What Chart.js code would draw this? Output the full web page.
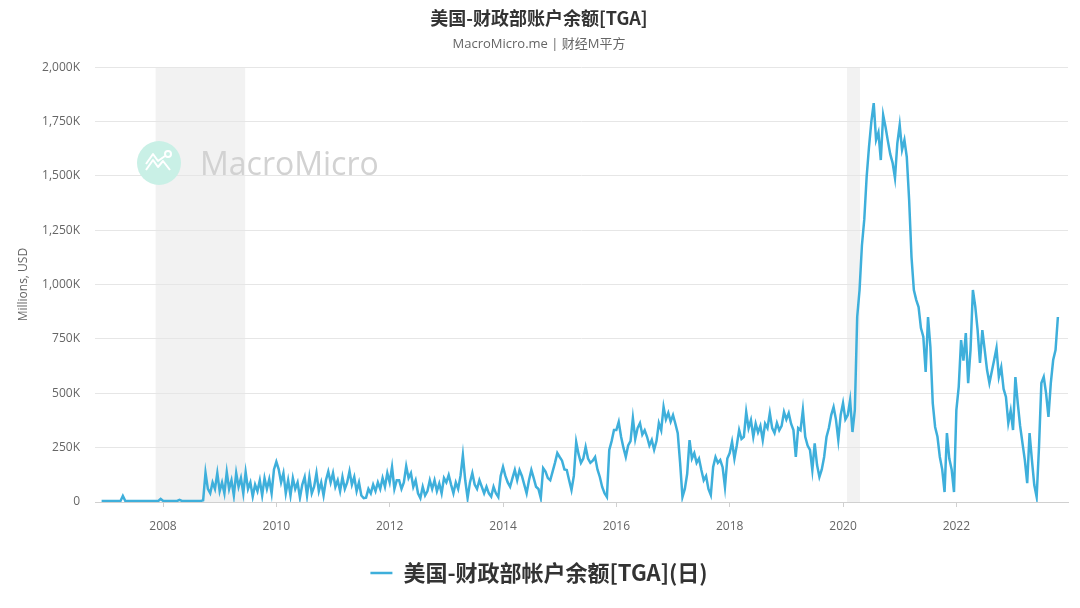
<!DOCTYPE html>
<html><head><meta charset="utf-8">
<script src="https://cdn.jsdelivr.net/npm/chart.js@4.4.0/dist/chart.umd.min.js"></script>
<style>html,body{margin:0;padding:0;background:#fff;}#wrap{width:1080px;height:608px;}</style>
</head><body><div id="wrap"><canvas id="c" width="1080" height="608"></canvas></div>
<script>
// Values in thousands of millions USD (axis shows "K"), sampled on the 1st and 16th of each month
const dec2006 = [5, 5];
const tga2007 = [5,5,5,5,5,5,5,28,6,5,5,5,5,5,5,5,5,5,5,5,5,5,5,14];
const tga2008 = [6,5,5,5,5,5,5,10,5,5,5,5,5,5,5,5,5,8,135,60,40,90,60,133];
const tga2009 = [50,90,40,138,60,100,30,133,70,110,40,138,60,90,25,80,50,100,30,110,60,105,40,150];
const tga2010 = [185,150,90,133,40,100,30,110,60,90,20,80,115,30,115,40,70,133,50,90,30,100,140,90];
const tga2011 = [133,70,100,50,115,60,90,142,80,115,50,90,30,18,20,60,40,80,50,90,60,110,70,133];
const tga2012 = [90,161,60,100,100,60,90,165,110,133,70,100,40,18,70,30,50,100,60,100,50,85,40,110];
const tga2013 = [90,124,80,40,90,60,120,216,100,18,90,133,80,60,100,70,40,70,40,25,70,40,23,120];
const tga2014 = [161,120,90,70,110,147,100,147,120,80,40,100,147,110,70,60,18,156,140,110,100,140,180,225];
const tga2015 = [207,190,150,147,100,55,120,276,220,180,200,253,200,180,190,207,150,115,69,40,23,239,280,331];
const tga2016 = [331,368,300,250,207,260,280,386,290,340,363,310,330,300,260,285,240,280,363,330,437,380,410,370];
const tga2017 = [400,360,317,180,23,60,130,285,200,225,180,200,147,100,120,60,32,161,207,180,193,160,69,200];
const tga2018 = [225,277,200,260,331,290,300,414,340,377,300,360,320,350,285,360,340,409,340,317,363,330,350,414];
const tga2019 = [380,409,360,331,207,340,330,423,300,260,240,147,270,170,115,150,207,299,340,400,437,380,285,400];
const tga2020 = [455,380,400,469,322,423,851,975,1180,1300,1495,1633,1750,1835,1665,1700,1573,1780,1725,1660,1600,1560,1490,1650];
const tga2021 = [1734,1620,1665,1587,1389,1127,975,930,897,800,760,598,851,713,455,345,300,207,150,46,317,200,150,46];
const tga2022 = [423,529,745,650,777,547,700,975,900,791,640,791,700,607,547,600,653,708,575,620,520,483,363,420];
const tga2023 = [331,575,455,350,271,193,87,317,193,78,23,253,547,575,500,391,547,653,699,851];

const seriesStart = [2006, 22];          // year, half-month index of first value
const yearBlocks = [dec2006, tga2007, tga2008, tga2009, tga2010, tga2011, tga2012, tga2013, tga2014,
                    tga2015, tga2016, tga2017, tga2018, tga2019, tga2020, tga2021, tga2022, tga2023];
const recessions = [[2007.87, 2009.45], [2020.07, 2020.30]];
const xTickYears = [2008, 2010, 2012, 2014, 2016, 2018, 2020, 2022];
const yTickStep = 250;
const seriesName = '美国-财政部帐户余额[TGA](日)';
const chartTitle = '美国-财政部账户余额[TGA]';
const chartSubtitle = 'MacroMicro.me | 财经M平方';

const points = [];
let k = seriesStart[1];
yearBlocks.forEach((arr, bi) => {
  const yr = seriesStart[0] + bi;
  if (bi > 0) k = 0;
  arr.forEach(v => { points.push({x: yr + k / 24, y: v}); k++; });
});

const LINE = '#3eafdb';

const shadePlugin = {
  id: 'shade',
  beforeDraw(chart) {
    const {ctx, chartArea: {top, bottom}, scales: {x}} = chart;
    ctx.save();
    ctx.fillStyle = '#f2f2f2';
    recessions.forEach(([a, b]) => {
      const x1 = x.getPixelForValue(a), x2 = x.getPixelForValue(b);
      ctx.fillRect(x1, top, x2 - x1, bottom - top);
    });
    ctx.restore();
  }
};

const watermark = {
  id: 'watermark',
  beforeDatasetsDraw(chart) {
    const ctx = chart.ctx;
    ctx.save();
    const cx = 159, cy = 163, r = 22;
    ctx.fillStyle = '#c9f0e6';
    ctx.beginPath(); ctx.arc(cx, cy, r, 0, Math.PI * 2); ctx.fill();
    ctx.strokeStyle = '#ffffff'; ctx.lineWidth = 2; ctx.lineJoin = 'round';
    ctx.beginPath();
    ctx.moveTo(cx - 13, cy + 7); ctx.lineTo(cx - 6, cy - 3); ctx.lineTo(cx - 1, cy + 4);
    ctx.lineTo(cx + 4, cy - 2); ctx.lineTo(cx + 11, cy + 7);
    ctx.moveTo(cx - 13, cy + 1); ctx.lineTo(cx - 6, cy - 9); ctx.lineTo(cx - 1, cy - 2); ctx.lineTo(cx + 6, cy - 7);
    ctx.stroke();
    ctx.beginPath(); ctx.arc(cx + 9, cy - 9, 3, 0, Math.PI * 2); ctx.stroke();
    ctx.fillStyle = '#d2d2d2';
    ctx.font = '32px "Open Sans"';
    ctx.textBaseline = 'alphabetic';
    ctx.fillText('MacroMicro', 200, 175);
    ctx.restore();
  }
};

new Chart(document.getElementById('c'), {
  type: 'line',
  data: {
    datasets: [{
      label: seriesName,
      data: points,
      borderColor: LINE,
      backgroundColor: LINE,
      borderWidth: 2.5,
      pointRadius: 0,
      tension: 0,
      fill: false
    }]
  },
  options: {
    responsive: false,
    animation: false,
    events: [],
    layout: {padding: {left: 10, right: 12, top: 0, bottom: 14}},
    scales: {
      x: {
        type: 'linear',
        min: 2006.8,
        max: 2023.97,
        afterBuildTicks(scale) { scale.ticks = xTickYears.map(v => ({value: v})); },
        afterFit(scale) { scale.height = 50; },
        grid: {drawOnChartArea: false, drawTicks: true, tickLength: 5, color: '#d0d0d0'},
        border: {display: true, color: '#d0d0d0'},
        ticks: {color: '#666', font: {family: '"Open Sans"', size: 12}, padding: 12, maxRotation: 0,
                callback: v => String(v)}
      },
      y: {
        min: 0, max: 2000,
        afterFit(scale) { scale.width = 85; },
        grid: {color: '#e6e6e6', drawTicks: false},
        border: {display: false},
        ticks: {stepSize: yTickStep, color: '#666', font: {family: '"Open Sans"', size: 12}, padding: 15,
                callback: v => v === 0 ? '0' : v.toLocaleString('en-US') + 'K'},
        title: {display: true, text: 'Millions, USD', color: '#666', font: {family: '"Open Sans"', size: 12}, padding: {top: 6, bottom: 4}}
      }
    },
    plugins: {
      title: {display: true, text: chartTitle, color: '#333',
              font: {family: '"Noto Sans CJK SC"', size: 18, weight: 'bold'}, padding: {top: 7, bottom: 4}},
      subtitle: {display: true, text: chartSubtitle, color: '#666',
                 font: {family: '"Open Sans", "Noto Sans CJK SC"', size: 13}, padding: {top: 4, bottom: 15}},
      legend: {position: 'bottom',
               labels: {usePointStyle: true, pointStyle: 'line', pointStyleWidth: 22, color: '#333',
                        font: {family: '"Noto Sans CJK SC"', size: 22, weight: 'bold'}, padding: 10}},
      tooltip: {enabled: false}
    }
  },
  plugins: [shadePlugin, watermark]
});
</script>
</body></html>
